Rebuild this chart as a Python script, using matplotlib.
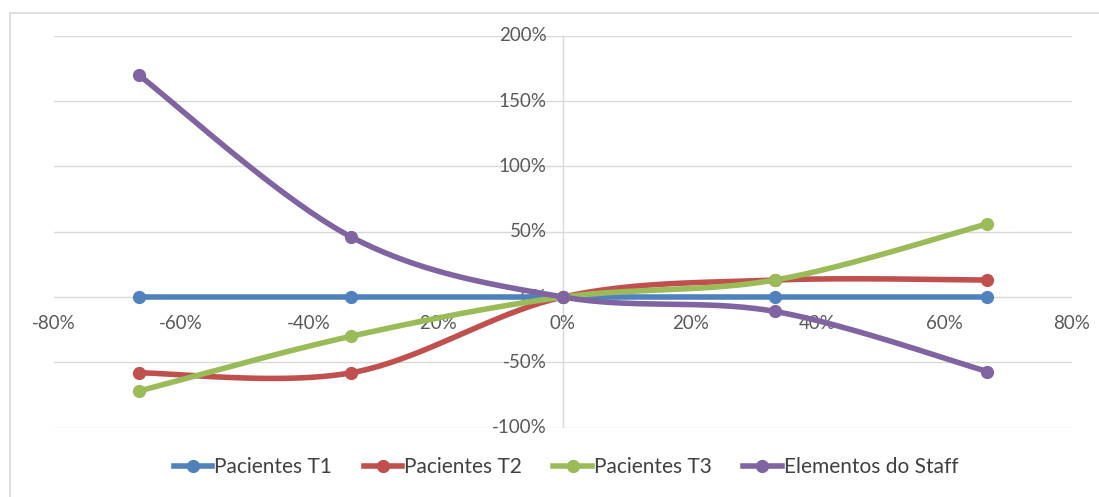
import numpy as np
import matplotlib
matplotlib.use('Agg')
import matplotlib.pyplot as plt
from matplotlib.patches import Rectangle

plt.rcParams['font.family'] = ['Lato', 'DejaVu Sans']

# variation in x (%) and response of each group (%)
x_vals = [-66.7, -33.3, 0.0, 33.3, 66.7]
pac_t1 = [0, 0, 0, 0, 0]
pac_t2 = [-58, -58, 0, 13, 13]
pac_t3 = [-72, -30, 0, 13, 56]
staff = [170, 46, 0, -11, -57]

labels = ['Pacientes T1', 'Pacientes T2', 'Pacientes T3', 'Elementos do Staff']
colors = ['#4F81BD', '#C0504D', '#9BBB59', '#8064A2']


def smooth(xs, ys, n=40):
    # catmull-rom curve through the points (like the spreadsheet "smoothed line")
    p = np.column_stack([xs, ys]).astype(float)
    p = np.vstack([p[0], p, p[-1]])
    out = []
    t = np.linspace(0, 1, n)[:, None]
    for i in range(1, len(p) - 2):
        p0, p1, p2, p3 = p[i - 1], p[i], p[i + 1], p[i + 2]
        c1 = p1 + (p2 - p0) / 6
        c2 = p2 - (p3 - p1) / 6
        seg = ((1 - t) ** 3) * p1 + 3 * ((1 - t) ** 2) * t * c1 + 3 * (1 - t) * t ** 2 * c2 + t ** 3 * p2
        out.append(seg)
    out = np.vstack(out)
    return out[:, 0], out[:, 1]


fig = plt.figure(figsize=(10.99, 4.97), dpi=100)
fig.patches.append(Rectangle((10 / 1099, -0.1), 1.2, (497 - 12.5) / 497 + 0.1,
                             transform=fig.transFigure, fill=False,
                             edgecolor='#D9D9D9', lw=1.2))
ax = fig.add_axes([54 / 1099, 69.3 / 497, 1018 / 1099, 392 / 497])

for ys, lab, c in zip([pac_t1, pac_t2, pac_t3, staff], labels, colors):
    sx, sy = smooth(x_vals, ys)
    ax.plot(sx, sy, color=c, lw=4.0, solid_capstyle='round', zorder=3)
    ax.plot(x_vals, ys, 'o', color=c, ms=8.5, zorder=4)
    ax.plot([], [], color=c, lw=4.0, marker='o', ms=8.5, label=lab)

ax.set_xlim(-80, 80)
ax.set_ylim(-100, 200)
ax.set_yticks(np.arange(-100, 201, 50))
ax.set_xticks(np.arange(-80, 81, 20))
ax.grid(axis='y', color='#D9D9D9', lw=1)
ax.axvline(0, color='#D9D9D9', lw=1, zorder=1)
ax.set_axisbelow(True)
for s in ax.spines.values():
    s.set_visible(False)
ax.tick_params(length=0, labelleft=False, labelbottom=False)

# tick labels placed next to the axes crossing at zero
for v in np.arange(-100, 201, 50):
    ax.text(-2.6, v, f'{v}%', ha='right', va='center', fontsize=13.5,
            color='#595959', zorder=2)
for v in np.arange(-80, 81, 20):
    ax.text(v, -20, f'{v}%', ha='center', va='center', fontsize=13.5,
            color='#595959', zorder=2)

fig.legend(loc='center', bbox_to_anchor=(0.515, 1 - 467 / 497), ncol=4,
           frameon=False, fontsize=15, handlelength=1.85, handletextpad=0.1,
           columnspacing=1.5, labelcolor='#404040')

fig.savefig('out.png', dpi=100)
